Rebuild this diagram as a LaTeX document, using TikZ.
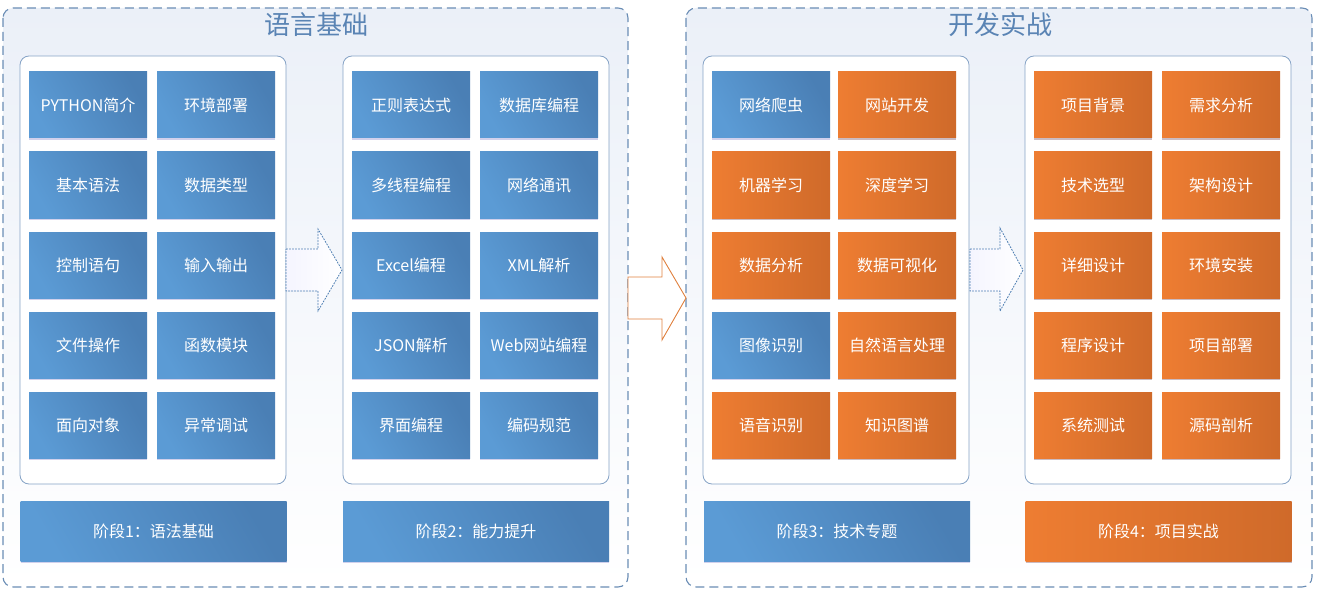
\documentclass[tikz,border=0pt]{standalone}
\usepackage{fontspec}
\setmainfont{Noto Sans CJK SC}
\usetikzlibrary{shadows}
\definecolor{bluea}{HTML}{5B9BD5}
\definecolor{blueb}{HTML}{4A7FB5}
\definecolor{orga}{HTML}{EE7D32}
\definecolor{orgb}{HTML}{CF6A2A}
\definecolor{frame}{HTML}{6A8DB5}
\definecolor{panel}{HTML}{86A3C6}
\definecolor{ttl}{HTML}{5A84B4}
\definecolor{arrb}{HTML}{4F7FB3}
\definecolor{arro}{HTML}{E0813F}
\definecolor{bgtop}{HTML}{EBF0F8}
\tikzset{
  outerbox/.style={draw=frame, line width=1.1pt, dash pattern=on 9pt off 5pt, rounded corners=10pt, top color=bgtop, bottom color=white},
  panelbox/.style={draw=panel, line width=0.8pt, rounded corners=9pt, fill=white},
  cellb/.style={minimum width=118pt, minimum height=66pt, inner sep=0pt, text=white, font=\fontsize{16}{18}\selectfont, left color=bluea, right color=blueb, shading angle=120, drop shadow={shadow xshift=0pt, shadow yshift=-2pt, opacity=0.18, fill=blue!60!black}},
  cello/.style={cellb, left color=orga, right color=orgb, drop shadow={shadow xshift=0pt, shadow yshift=-2pt, opacity=0.18, fill=orange!70!black}},
  barb/.style={cellb, minimum width=266pt, minimum height=60pt},
  baro/.style={cello, minimum width=266pt, minimum height=60pt},
  ttlnode/.style={text=ttl, font=\fontsize{26}{28}\selectfont, inner sep=0pt},
  dasharrow/.style={draw=arrb, line width=0.8pt, dash pattern=on 1.8pt off 1.2pt, left color=blue!4!white, right color=white},
  orgarrow/.style={draw=arro, line width=0.9pt, fill=white},
}
\begin{document}
\begin{tikzpicture}[x=1pt,y=-1pt]
\useasboundingbox (0,0) rectangle (1319,604);
% outer frames
\draw[outerbox] (3,8) rectangle (628,587);
\draw[outerbox] (686,8) rectangle (1312,587);
\node[ttlnode] (t1) at (316,25) {语言基础};
\node[ttlnode] (t2) at (1000,25) {开发实战};
% panels
\draw[panelbox] (20,56) rectangle (286,484);
\draw[panelbox] (343,56) rectangle (609,484);
\draw[panelbox] (703,56) rectangle (969,484);
\draw[panelbox] (1025,56) rectangle (1291,484);
% panel 1
\node[cellb] (a11) at (88,105) {PYTHON简介};
\node[cellb] (a12) at (216,105) {环境部署};
\node[cellb] (a21) at (88,185) {基本语法};
\node[cellb] (a22) at (216,185) {数据类型};
\node[cellb] (a31) at (88,265) {控制语句};
\node[cellb] (a32) at (216,265) {输入输出};
\node[cellb] (a41) at (88,345) {文件操作};
\node[cellb] (a42) at (216,345) {函数模块};
\node[cellb] (a51) at (88,425) {面向对象};
\node[cellb] (a52) at (216,425) {异常调试};
% panel 2
\node[cellb] (b11) at (411,105) {正则表达式};
\node[cellb] (b12) at (539,105) {数据库编程};
\node[cellb] (b21) at (411,185) {多线程编程};
\node[cellb] (b22) at (539,185) {网络通讯};
\node[cellb] (b31) at (411,265) {Excel编程};
\node[cellb] (b32) at (539,265) {XML解析};
\node[cellb] (b41) at (411,345) {JSON解析};
\node[cellb] (b42) at (539,345) {Web网站编程};
\node[cellb] (b51) at (411,425) {界面编程};
\node[cellb] (b52) at (539,425) {编码规范};
% panel 3
\node[cellb] (c11) at (771,105) {网络爬虫};
\node[cello] (c12) at (897,105) {网站开发};
\node[cello] (c21) at (771,185) {机器学习};
\node[cello] (c22) at (897,185) {深度学习};
\node[cello] (c31) at (771,265) {数据分析};
\node[cello] (c32) at (897,265) {数据可视化};
\node[cellb] (c41) at (771,345) {图像识别};
\node[cello] (c42) at (897,345) {自然语言处理};
\node[cello] (c51) at (771,425) {语音识别};
\node[cello] (c52) at (897,425) {知识图谱};
% panel 4
\node[cello] (d11) at (1093,105) {项目背景};
\node[cello] (d12) at (1221,105) {需求分析};
\node[cello] (d21) at (1093,185) {技术选型};
\node[cello] (d22) at (1221,185) {架构设计};
\node[cello] (d31) at (1093,265) {详细设计};
\node[cello] (d32) at (1221,265) {环境安装};
\node[cello] (d41) at (1093,345) {程序设计};
\node[cello] (d42) at (1221,345) {项目部署};
\node[cello] (d51) at (1093,425) {系统测试};
\node[cello] (d52) at (1221,425) {源码剖析};
% bars
\node[barb] (s1) at (153.5,531) {阶段1：语法基础};
\node[barb] (s2) at (476,531) {阶段2：能力提升};
\node[barb] (s3) at (837,531) {阶段3：技术专题};
\node[baro] (s4) at (1158.5,531) {阶段4：项目实战};
% arrows
\draw[dasharrow] (286,249) -- (318,249) -- (318,229) -- (342,270) -- (318,311) -- (318,291) -- (286,291) -- cycle;
\draw[orgarrow] (628,277) -- (662,277) -- (662,257) -- (686,298) -- (662,340) -- (662,319) -- (628,319) -- cycle;
\draw[dasharrow] (970,249) -- (1000,249) -- (1000,228) -- (1023,270) -- (1000,311) -- (1000,291) -- (970,291) -- cycle;
\end{tikzpicture}
\end{document}
